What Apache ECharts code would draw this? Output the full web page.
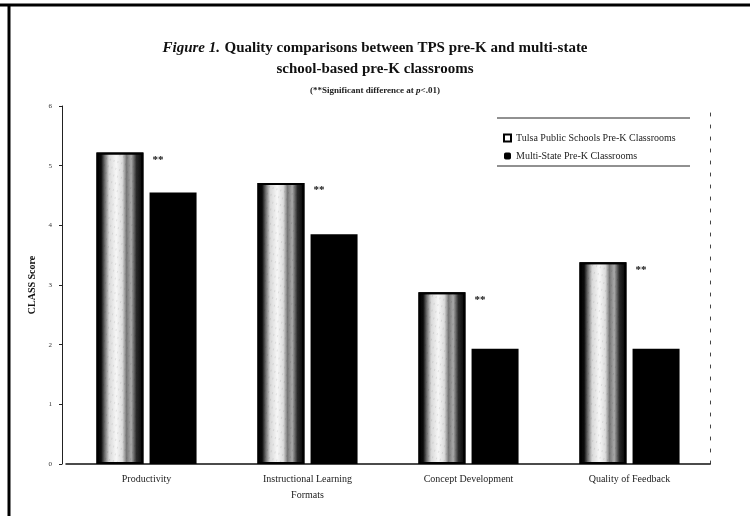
<!DOCTYPE html>
<html>
<head>
<meta charset="utf-8">
<script src="https://cdn.jsdelivr.net/npm/echarts@6/dist/echarts.min.js"></script>
<style>
html,body{margin:0;padding:0;background:#fff;}
#c{width:750px;height:516px;}
</style>
</head>
<body>
<div id="c"></div>
<script>
const categories = ['Productivity', 'Instructional Learning\nFormats', 'Concept Development', 'Quality of Feedback'];
const tpsValues = [5.22, 4.71, 2.88, 3.38];
const multiStateValues = [4.55, 3.85, 1.93, 1.93];
const significance = ['**', '**', '**', '**'];
const seriesNames = ['Tulsa Public Schools Pre-K Classrooms', 'Multi-State Pre-K Classrooms'];
const yTicks = [0, 1, 2, 3, 4, 5, 6];

const serif = '"Liberation Serif", "DejaVu Serif", serif';
const chart = echarts.init(document.getElementById('c'), null, {renderer: 'canvas'});

const stipple = new echarts.graphic.LinearGradient(0, 0, 1, 0, [
  {offset: 0, color: '#000'},
  {offset: 0.1, color: '#0a0a0a'},
  {offset: 0.17, color: '#666'},
  {offset: 0.27, color: '#d8d8d8'},
  {offset: 0.42, color: '#f7f7f7'},
  {offset: 0.55, color: '#dcdcdc'},
  {offset: 0.64, color: '#777'},
  {offset: 0.74, color: '#aaa'},
  {offset: 0.85, color: '#2a2a2a'},
  {offset: 1, color: '#000'}
]);

const option = {
  animation: false,
  backgroundColor: '#fff',
  title: {
    text: '{i|Figure 1.} {b|Quality comparisons between TPS pre-K and multi-state}\n{b|school-based pre-K classrooms}',
    subtext: '{s|(**Significant difference at }{si|p}{s|<.01)}',
    left: 'center',
    top: 33,
    itemGap: 6,
    textStyle: {
      fontFamily: serif,
      lineHeight: 21,
      rich: {
        i: {fontFamily: serif, fontStyle: 'italic', fontWeight: 'bold', fontSize: 15, color: '#111'},
        b: {fontFamily: serif, fontWeight: 'bold', fontSize: 15, color: '#111', lineHeight: 21}
      }
    },
    subtextStyle: {
      rich: {
        s: {fontFamily: serif, fontWeight: 'bold', fontSize: 9, color: '#222'},
        si: {fontFamily: serif, fontWeight: 'bold', fontStyle: 'italic', fontSize: 9, color: '#222'}
      }
    }
  },
  legend: {
    orient: 'vertical',
    left: 498,
    top: 128,
    itemWidth: 7,
    itemHeight: 7,
    itemGap: 8,
    textStyle: {fontFamily: serif, fontSize: 10, color: '#222'},
    data: [
      {name: seriesNames[0], icon: 'rect', itemStyle: {color: '#fff', borderColor: '#000', borderWidth: 2, decal: 'none'}},
      {name: seriesNames[1], icon: 'roundRect', itemStyle: {color: '#000'}}
    ]
  },
  grid: {left: 66, right: 40, top: 106, bottom: 52, containLabel: false},
  xAxis: {
    type: 'category',
    data: categories,
    axisLine: {lineStyle: {color: '#111', width: 1.5}},
    axisTick: {show: false},
    axisLabel: {fontFamily: serif, fontSize: 10, color: '#222', margin: 7, lineHeight: 16}
  },
  yAxis: [{
    type: 'value',
    min: 0,
    max: 6,
    interval: 1,
    offset: 4,
    name: 'CLASS Score',
    nameLocation: 'middle',
    nameGap: 23,
    nameRotate: 90,
    nameTextStyle: {fontFamily: serif, fontWeight: 'bold', fontSize: 10, color: '#111'},
    axisLine: {show: true, lineStyle: {color: '#222', width: 1}},
    axisTick: {show: true, length: 3, inside: false, lineStyle: {color: '#222'}},
    axisLabel: {fontFamily: serif, fontSize: 7, color: '#333', margin: 10,
      formatter: v => yTicks.includes(v) ? String(v) : ''},
    splitLine: {show: false}
  }, {
    type: 'value',
    min: 0,
    max: 6,
    interval: 1,
    position: 'right',
    axisLine: {show: true, lineStyle: {color: '#444', width: 1, type: [3, 9]}},
    axisTick: {show: false},
    axisLabel: {show: false},
    splitLine: {show: false}
  }],
  series: [{
    name: seriesNames[0],
    type: 'bar',
    data: tpsValues,
    barWidth: 47,
    barGap: '13%',
    itemStyle: {
      color: stipple, borderColor: '#000', borderWidth: 2,
      decal: {symbol: 'rect', symbolSize: 0.5, color: 'rgba(0,0,0,0.35)', dashArrayX: [1, 3], dashArrayY: [2, 5], rotation: 0.3}
    },
    label: {
      show: true,
      position: [56, 2],
      formatter: p => significance[p.dataIndex],
      fontFamily: serif, fontWeight: 'bold', fontSize: 11, color: '#111'
    }
  }, {
    name: seriesNames[1],
    type: 'bar',
    data: multiStateValues,
    barWidth: 47,
    itemStyle: {color: '#000'}
  }],
  graphic: [
    {type: 'line', shape: {x1: 0, y1: 5, x2: 750, y2: 5}, style: {stroke: '#000', lineWidth: 3}, silent: true},
    {type: 'line', shape: {x1: 9, y1: 5, x2: 9, y2: 516}, style: {stroke: '#000', lineWidth: 3}, silent: true},
    {type: 'line', shape: {x1: 497, y1: 118, x2: 690, y2: 118}, style: {stroke: '#222', lineWidth: 1}, silent: true},
    {type: 'line', shape: {x1: 497, y1: 166, x2: 690, y2: 166}, style: {stroke: '#222', lineWidth: 1}, silent: true}
  ]
};
chart.setOption(option);
</script>
</body>
</html>
